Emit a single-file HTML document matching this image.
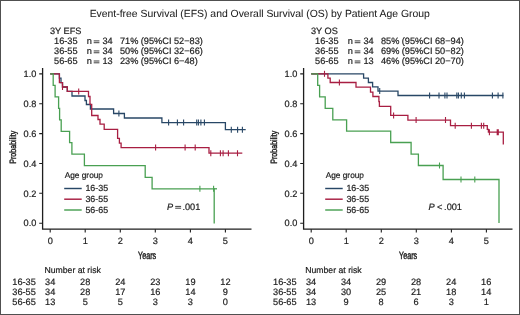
<!DOCTYPE html>
<html><head><meta charset="utf-8"><style>
html,body{margin:0;padding:0;background:#fff;}
svg{display:block;will-change:transform;}
text{text-rendering:geometricPrecision;font-family:"Liberation Sans",sans-serif;fill:#1c1c1c;stroke:#1c1c1c;stroke-width:0.2px;}
</style></head><body>
<svg width="520" height="315" viewBox="0 0 520 315">
<rect x="0" y="0" width="520" height="315" fill="#fff"/>
<text x="89.7" y="16.9" font-size="10.40" style="stroke-width:0.05px">Event-free Survival (EFS) and Overall Survival (OS) by Patient Age Group</text>
<path d="M42.6 68V229.2H251.5" stroke="#1e1e1e" stroke-width="1.3" fill="none"/>
<path d="M39.2 223.2H42.6M39.2 193.3H42.6M39.2 163.5H42.6M39.2 133.6H42.6M39.2 103.8H42.6M39.2 73.9H42.6M50.2 229.2V232.6M85.2 229.2V232.6M120.3 229.2V232.6M155.3 229.2V232.6M190.4 229.2V232.6M225.4 229.2V232.6" stroke="#1e1e1e" stroke-width="1.1" fill="none"/>
<text x="36.4" y="226.4" font-size="9.20" text-anchor="end">0.0</text>
<text x="36.4" y="196.5" font-size="9.20" text-anchor="end">0.2</text>
<text x="36.4" y="166.7" font-size="9.20" text-anchor="end">0.4</text>
<text x="36.4" y="136.8" font-size="9.20" text-anchor="end">0.6</text>
<text x="36.4" y="107.0" font-size="9.20" text-anchor="end">0.8</text>
<text x="36.4" y="77.1" font-size="9.20" text-anchor="end">1.0</text>
<text x="50.2" y="243.9" font-size="9.20" text-anchor="middle">0</text>
<text x="85.2" y="243.9" font-size="9.20" text-anchor="middle">1</text>
<text x="120.3" y="243.9" font-size="9.20" text-anchor="middle">2</text>
<text x="155.3" y="243.9" font-size="9.20" text-anchor="middle">3</text>
<text x="190.4" y="243.9" font-size="9.20" text-anchor="middle">4</text>
<text x="225.4" y="243.9" font-size="9.20" text-anchor="middle">5</text>
<text x="0" y="258.7" text-anchor="middle" font-size="10.6" style="stroke-width:0.45px" transform="translate(147.1 0) scale(0.68 1)">Years</text>
<text x="0" y="0" text-anchor="middle" font-size="9.2" style="stroke-width:0.4px" transform="translate(16.2 147.2) rotate(-90) scale(0.77 1)">Probability</text>
<text x="64.7" y="178.3" font-size="8.30">Age group</text>
<path d="M64.2 188.5H81.7" stroke="#284766" stroke-width="1.45"/>
<text x="85.4" y="191.0" font-size="8.90">16-35</text>
<path d="M64.2 199.2H81.7" stroke="#a81e42" stroke-width="1.45"/>
<text x="85.4" y="201.8" font-size="8.90">36-55</text>
<path d="M64.2 210.0H81.7" stroke="#49a052" stroke-width="1.45"/>
<text x="85.4" y="212.5" font-size="8.90">56-65</text>
<text x="49.9" y="33.8" font-size="9.20">3Y EFS</text>
<text x="77.6" y="44.3" font-size="9.20" text-anchor="end">16-35</text>
<text x="86.7" y="44.3" font-size="9.20">n</text>
<path d="M93.7 40.90H99.4M93.7 42.70H99.4" stroke="#1c1c1c" stroke-width="0.85"/>
<text x="102.5" y="44.3" font-size="9.20">34</text>
<text x="120.0" y="44.3" font-size="9.20">71%</text>
<text x="140.8" y="44.3" font-size="9.20">(95%CI 52−83)</text>
<text x="77.6" y="54.3" font-size="9.20" text-anchor="end">36-55</text>
<text x="86.7" y="54.3" font-size="9.20">n</text>
<path d="M93.7 50.95H99.4M93.7 52.75H99.4" stroke="#1c1c1c" stroke-width="0.85"/>
<text x="102.5" y="54.3" font-size="9.20">34</text>
<text x="120.0" y="54.3" font-size="9.20">50%</text>
<text x="140.8" y="54.3" font-size="9.20">(95%CI 32−66)</text>
<text x="77.6" y="64.4" font-size="9.20" text-anchor="end">56-65</text>
<text x="86.7" y="64.4" font-size="9.20">n</text>
<path d="M93.7 61.00H99.4M93.7 62.80H99.4" stroke="#1c1c1c" stroke-width="0.85"/>
<text x="102.5" y="64.4" font-size="9.20">13</text>
<text x="120.0" y="64.4" font-size="9.20">23%</text>
<text x="140.8" y="64.4" font-size="9.20">(95%CI 6−48)</text>
<path d="M303.6 68V229.2H512.5" stroke="#1e1e1e" stroke-width="1.3" fill="none"/>
<path d="M300.2 223.2H303.6M300.2 193.3H303.6M300.2 163.5H303.6M300.2 133.6H303.6M300.2 103.8H303.6M300.2 73.9H303.6M311.2 229.2V232.6M346.2 229.2V232.6M381.3 229.2V232.6M416.3 229.2V232.6M451.4 229.2V232.6M486.4 229.2V232.6" stroke="#1e1e1e" stroke-width="1.1" fill="none"/>
<text x="297.4" y="226.4" font-size="9.20" text-anchor="end">0.0</text>
<text x="297.4" y="196.5" font-size="9.20" text-anchor="end">0.2</text>
<text x="297.4" y="166.7" font-size="9.20" text-anchor="end">0.4</text>
<text x="297.4" y="136.8" font-size="9.20" text-anchor="end">0.6</text>
<text x="297.4" y="107.0" font-size="9.20" text-anchor="end">0.8</text>
<text x="297.4" y="77.1" font-size="9.20" text-anchor="end">1.0</text>
<text x="311.2" y="243.9" font-size="9.20" text-anchor="middle">0</text>
<text x="346.2" y="243.9" font-size="9.20" text-anchor="middle">1</text>
<text x="381.3" y="243.9" font-size="9.20" text-anchor="middle">2</text>
<text x="416.3" y="243.9" font-size="9.20" text-anchor="middle">3</text>
<text x="451.4" y="243.9" font-size="9.20" text-anchor="middle">4</text>
<text x="486.4" y="243.9" font-size="9.20" text-anchor="middle">5</text>
<text x="0" y="258.7" text-anchor="middle" font-size="10.6" style="stroke-width:0.45px" transform="translate(408.1 0) scale(0.68 1)">Years</text>
<text x="0" y="0" text-anchor="middle" font-size="9.2" style="stroke-width:0.4px" transform="translate(277.2 147.2) rotate(-90) scale(0.77 1)">Probability</text>
<text x="325.7" y="178.3" font-size="8.30">Age group</text>
<path d="M325.2 188.5H342.7" stroke="#284766" stroke-width="1.45"/>
<text x="346.4" y="191.0" font-size="8.90">16-35</text>
<path d="M325.2 199.2H342.7" stroke="#a81e42" stroke-width="1.45"/>
<text x="346.4" y="201.8" font-size="8.90">36-55</text>
<path d="M325.2 210.0H342.7" stroke="#49a052" stroke-width="1.45"/>
<text x="346.4" y="212.5" font-size="8.90">56-65</text>
<text x="310.9" y="33.8" font-size="9.20">3Y OS</text>
<text x="338.6" y="44.3" font-size="9.20" text-anchor="end">16-35</text>
<text x="347.7" y="44.3" font-size="9.20">n</text>
<path d="M354.7 40.90H360.4M354.7 42.70H360.4" stroke="#1c1c1c" stroke-width="0.85"/>
<text x="363.5" y="44.3" font-size="9.20">34</text>
<text x="381.0" y="44.3" font-size="9.20">85%</text>
<text x="401.8" y="44.3" font-size="9.20">(95%CI 68−94)</text>
<text x="338.6" y="54.3" font-size="9.20" text-anchor="end">36-55</text>
<text x="347.7" y="54.3" font-size="9.20">n</text>
<path d="M354.7 50.95H360.4M354.7 52.75H360.4" stroke="#1c1c1c" stroke-width="0.85"/>
<text x="363.5" y="54.3" font-size="9.20">34</text>
<text x="381.0" y="54.3" font-size="9.20">69%</text>
<text x="401.8" y="54.3" font-size="9.20">(95%CI 50−82)</text>
<text x="338.6" y="64.4" font-size="9.20" text-anchor="end">56-65</text>
<text x="347.7" y="64.4" font-size="9.20">n</text>
<path d="M354.7 61.00H360.4M354.7 62.80H360.4" stroke="#1c1c1c" stroke-width="0.85"/>
<text x="363.5" y="64.4" font-size="9.20">13</text>
<text x="381.0" y="64.4" font-size="9.20">46%</text>
<text x="401.8" y="64.4" font-size="9.20">(95%CI 20−70)</text>
<path d="M50.2 73.8H59.4V78.2H61.0V82.6H62.5V87.0H67.3V91.4H72.0V96.0H85.0V100.5H86.4V104.5H90.4V109.0H113.6V113.5H124.4V118.0H161.9V122.6H225.4V129.7H245.7" stroke="#284766" stroke-width="1.30" fill="none"/>
<path d="M50.2 73.8H59.4V82.6H62.5V87.0H67.3V91.4H88.5V96.5H90.0V104.4H91.7V115.5H98.0V119.5H100.0V124.2H104.2V129.3H117.6V138.3H119.4V143.2H121.1V147.6H209.0V153.2H242.3" stroke="#a81e42" stroke-width="1.30" fill="none"/>
<path d="M50.2 73.8H53.2V85.3H55.1V96.8H58.6V108.3H59.6V119.8H61.2V131.3H69.6V142.7H71.9V154.2H84.4V165.7H145.2V177.3H152.1V188.8H214.2V223.5" stroke="#49a052" stroke-width="1.30" fill="none"/>
<path d="M118.9 110.5V116.5" stroke="#284766" stroke-width="1.1" fill="none"/>
<path d="M168.6 119.5V125.5M177.4 119.5V125.5M183.6 119.5V125.5M196.7 119.5V125.5M198.4 119.5V125.5M200.9 119.5V125.5M204.4 119.5V125.5" stroke="#284766" stroke-width="1.1" fill="none"/>
<path d="M231.3 126.7V132.7M237.6 126.7V132.7M242.4 126.7V132.7" stroke="#284766" stroke-width="1.1" fill="none"/>
<path d="M62.5 84.0V90.0" stroke="#a81e42" stroke-width="1.1" fill="none"/>
<path d="M78.7 88.4V94.4" stroke="#a81e42" stroke-width="1.1" fill="none"/>
<path d="M155.6 144.6V150.6M185.1 144.6V150.6M195.2 144.6V150.6" stroke="#a81e42" stroke-width="1.1" fill="none"/>
<path d="M210.8 150.2V156.2M220.4 150.2V156.2M223.1 150.2V156.2M228.4 150.2V156.2M237.5 150.2V156.2" stroke="#a81e42" stroke-width="1.1" fill="none"/>
<path d="M199.9 185.8V191.8M213.6 185.8V191.8" stroke="#49a052" stroke-width="1.1" fill="none"/>
<path d="M213.5 188.8H217.0" stroke="#49a052" stroke-width="1.3"/>
<path d="M311.2 73.8H363.6V78.2H368.4V82.5H372.6V86.8H378.0V91.1H398.0V95.5H503.4" stroke="#284766" stroke-width="1.30" fill="none"/>
<path d="M311.2 73.8H327.9V78.1H330.2V82.5H356.0V87.1H370.5V92.2H372.9V96.5H378.9V101.7H379.4V106.4H390.7V115.4H407.9V120.1H450.5V125.7H487.3V129.4H488.4V132.2H503.3V144.4" stroke="#a81e42" stroke-width="1.30" fill="none"/>
<path d="M311.2 73.8H317.7V85.3H319.6V96.8H325.2V108.3H332.8V119.8H346.6V131.2H390.7V142.5H411.1V154.1H418.4V165.5H443.1V179.5H499.0V223.1" stroke="#49a052" stroke-width="1.30" fill="none"/>
<path d="M379.7 88.1V94.1" stroke="#284766" stroke-width="1.1" fill="none"/>
<path d="M429.6 92.5V98.5M439.0 92.5V98.5M444.9 92.5V98.5M447.0 92.5V98.5M456.8 92.5V98.5M458.4 92.5V98.5M461.3 92.5V98.5M464.4 92.5V98.5M492.4 92.5V98.5M498.1 92.5V98.5M502.9 92.5V98.5" stroke="#284766" stroke-width="1.1" fill="none"/>
<path d="M324.5 70.8V76.8" stroke="#a81e42" stroke-width="1.1" fill="none"/>
<path d="M339.4 79.5V85.5" stroke="#a81e42" stroke-width="1.1" fill="none"/>
<path d="M393.6 112.4V118.4" stroke="#a81e42" stroke-width="1.1" fill="none"/>
<path d="M416.1 117.1V123.1M445.5 117.1V123.1" stroke="#a81e42" stroke-width="1.1" fill="none"/>
<path d="M455.2 122.7V128.7M471.4 122.7V128.7M481.4 122.7V128.7M483.7 122.7V128.7" stroke="#a81e42" stroke-width="1.1" fill="none"/>
<path d="M489.4 129.2V135.2M497.2 129.2V135.2M498.3 129.2V135.2" stroke="#a81e42" stroke-width="1.1" fill="none"/>
<path d="M439.5 162.5V168.5" stroke="#49a052" stroke-width="1.1" fill="none"/>
<path d="M461.0 176.5V182.5M474.8 176.5V182.5" stroke="#49a052" stroke-width="1.1" fill="none"/>
<text x="166.9" y="209.9" font-size="9.20" font-style="italic">P</text>
<path d="M175.2 206.40H181.1M175.2 208.20H181.1" stroke="#1c1c1c" stroke-width="0.85"/>
<text x="182.4" y="209.9" font-size="9.20">.001</text>
<text x="428.6" y="209.9" font-size="9.20" font-style="italic">P</text>
<text x="437.0" y="209.9" font-size="9.20">&lt;</text>
<text x="444.1" y="209.9" font-size="9.20">.001</text>
<text x="44.4" y="273.0" font-size="8.70">Number at risk</text>
<text x="12.3" y="285.1" font-size="9.20">16-35</text>
<text x="50.2" y="285.1" font-size="9.20" text-anchor="middle">34</text>
<text x="85.2" y="285.1" font-size="9.20" text-anchor="middle">28</text>
<text x="120.3" y="285.1" font-size="9.20" text-anchor="middle">24</text>
<text x="155.3" y="285.1" font-size="9.20" text-anchor="middle">23</text>
<text x="190.4" y="285.1" font-size="9.20" text-anchor="middle">19</text>
<text x="225.4" y="285.1" font-size="9.20" text-anchor="middle">12</text>
<text x="12.3" y="295.0" font-size="9.20">36-55</text>
<text x="50.2" y="295.0" font-size="9.20" text-anchor="middle">34</text>
<text x="85.2" y="295.0" font-size="9.20" text-anchor="middle">28</text>
<text x="120.3" y="295.0" font-size="9.20" text-anchor="middle">17</text>
<text x="155.3" y="295.0" font-size="9.20" text-anchor="middle">16</text>
<text x="190.4" y="295.0" font-size="9.20" text-anchor="middle">14</text>
<text x="225.4" y="295.0" font-size="9.20" text-anchor="middle">9</text>
<text x="12.3" y="304.9" font-size="9.20">56-65</text>
<text x="50.2" y="304.9" font-size="9.20" text-anchor="middle">13</text>
<text x="85.2" y="304.9" font-size="9.20" text-anchor="middle">5</text>
<text x="120.3" y="304.9" font-size="9.20" text-anchor="middle">5</text>
<text x="155.3" y="304.9" font-size="9.20" text-anchor="middle">3</text>
<text x="190.4" y="304.9" font-size="9.20" text-anchor="middle">3</text>
<text x="225.4" y="304.9" font-size="9.20" text-anchor="middle">0</text>
<text x="305.2" y="273.0" font-size="8.70">Number at risk</text>
<text x="273.1" y="285.1" font-size="9.20">16-35</text>
<text x="311.0" y="285.1" font-size="9.20" text-anchor="middle">34</text>
<text x="346.0" y="285.1" font-size="9.20" text-anchor="middle">34</text>
<text x="381.1" y="285.1" font-size="9.20" text-anchor="middle">29</text>
<text x="416.1" y="285.1" font-size="9.20" text-anchor="middle">28</text>
<text x="451.2" y="285.1" font-size="9.20" text-anchor="middle">24</text>
<text x="486.2" y="285.1" font-size="9.20" text-anchor="middle">16</text>
<text x="273.1" y="295.0" font-size="9.20">36-55</text>
<text x="311.0" y="295.0" font-size="9.20" text-anchor="middle">34</text>
<text x="346.0" y="295.0" font-size="9.20" text-anchor="middle">30</text>
<text x="381.1" y="295.0" font-size="9.20" text-anchor="middle">25</text>
<text x="416.1" y="295.0" font-size="9.20" text-anchor="middle">21</text>
<text x="451.2" y="295.0" font-size="9.20" text-anchor="middle">18</text>
<text x="486.2" y="295.0" font-size="9.20" text-anchor="middle">14</text>
<text x="273.1" y="304.9" font-size="9.20">56-65</text>
<text x="311.0" y="304.9" font-size="9.20" text-anchor="middle">13</text>
<text x="346.0" y="304.9" font-size="9.20" text-anchor="middle">9</text>
<text x="381.1" y="304.9" font-size="9.20" text-anchor="middle">8</text>
<text x="416.1" y="304.9" font-size="9.20" text-anchor="middle">6</text>
<text x="451.2" y="304.9" font-size="9.20" text-anchor="middle">3</text>
<text x="486.2" y="304.9" font-size="9.20" text-anchor="middle">1</text>
<rect x="0.5" y="0.5" width="519" height="314" fill="none" stroke="#505050" stroke-width="1"/>
</svg>
</body></html>
